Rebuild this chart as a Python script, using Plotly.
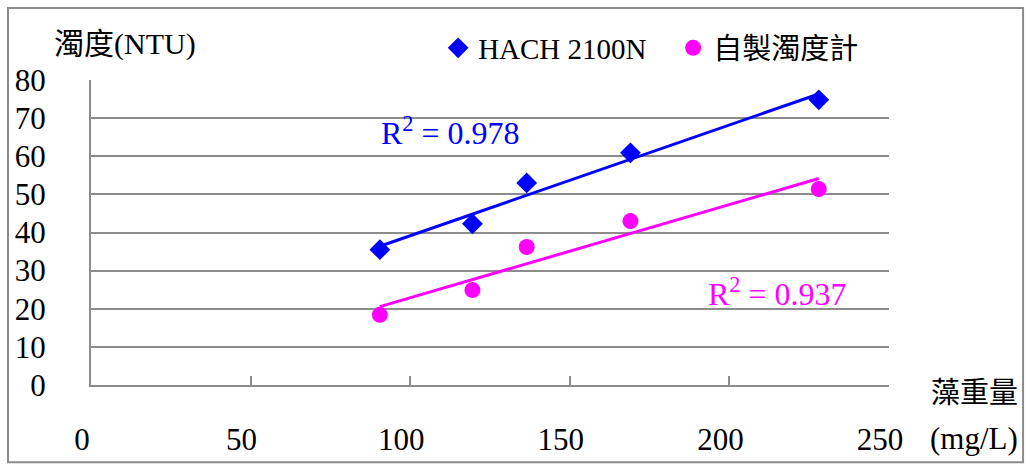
import numpy as np
import plotly.graph_objects as go

# Data
algae_weight = [90.5, 119.5, 136.5, 169.0, 228.0]      # 藻重量 (mg/L)
hach_ntu = [35.5, 42.3, 53.0, 60.9, 74.8]               # HACH 2100N
homemade_ntu = [18.4, 24.9, 36.2, 43.0, 51.4]           # 自製濁度計
series_names = ["HACH 2100N", "自製濁度計"]
r2_labels = ["R<sup>2</sup> = 0.978", "R<sup>2</sup> = 0.937"]
x_ticks = [0, 50, 100, 150, 200, 250]
y_ticks = [0, 10, 20, 30, 40, 50, 60, 70, 80]

BLUE = "#0000FF"
MAGENTA = "#FF00FF"
GRID = "#8c8c8c"
FONT = "Liberation Serif, Noto Sans CJK TC, serif"

fig = go.Figure()

def trend(x, y):
    x = np.asarray(x, float)
    y = np.asarray(y, float)
    m, b = np.polyfit(x, y, 1)
    xs = np.array([x.min(), x.max()])
    return xs, m * xs + b

for ys, name, color, sym, size in [
    (hach_ntu, series_names[0], BLUE, "diamond", 16),
    (homemade_ntu, series_names[1], MAGENTA, "circle", 16),
]:
    tx, ty = trend(algae_weight, ys)
    fig.add_trace(go.Scatter(x=tx, y=ty, mode="lines",
                             line=dict(color=color, width=3),
                             showlegend=False, hoverinfo="skip"))
    fig.add_trace(go.Scatter(x=algae_weight, y=ys, mode="markers", name=name,
                             marker=dict(color=color, symbol=sym, size=size,
                                         line=dict(width=0))))

fig.update_layout(
    width=1030, height=466,
    margin=dict(l=91, r=141, t=80, b=81, autoexpand=False),
    paper_bgcolor="white", plot_bgcolor="white",
    font=dict(family=FONT, size=28, color="black"),
    showlegend=True,
    legend=dict(orientation="h", x=0.435, y=1.105, xanchor="left", yanchor="middle",
                font=dict(size=29, family=FONT), bgcolor="rgba(0,0,0,0)",
                entrywidthmode="pixels", entrywidth=190, itemsizing="trace"),
    xaxis=dict(range=[0, 250], tickvals=x_ticks, showgrid=False, zeroline=False,
               showline=True, linecolor=GRID, linewidth=2,
               ticks="inside", ticklen=9, tickwidth=2, tickcolor=GRID,
               ticklabelstandoff=26, ticklabelshift=-9, automargin=False,
               tickfont=dict(size=31, family=FONT)),
    yaxis=dict(range=[0, 80], tickvals=y_ticks, showgrid=True, gridcolor=GRID,
               gridwidth=2, zeroline=False,
               showline=True, linecolor=GRID, linewidth=2,
               ticks="", ticklabelstandoff=37, automargin=False,
               tickfont=dict(size=31, family=FONT)),
)

# Outer frame of the chart
fig.add_shape(type="rect", xref="paper", yref="paper",
              x0=-0.104, x1=1.168, y0=-0.253, y1=1.236,
              line=dict(color=GRID, width=2), fillcolor="rgba(0,0,0,0)", layer="below")

# Axis titles
fig.add_annotation(text="濁度(NTU)", xref="paper", yref="paper", x=-0.049, y=1.118,
                   xanchor="left", yanchor="middle", showarrow=False,
                   font=dict(size=30, family=FONT))
fig.add_annotation(text="藻重量", xref="paper", yref="paper", x=1.164, y=-0.026,
                   xanchor="right", yanchor="middle", showarrow=False,
                   font=dict(size=29, family=FONT))
fig.add_annotation(text="(mg/L)", xref="paper", yref="paper", x=1.164, y=-0.174,
                   xanchor="right", yanchor="middle", showarrow=False,
                   font=dict(size=31, family=FONT))

# R² labels
fig.add_annotation(text=r2_labels[0], x=90.3, y=66.6, xanchor="left", yanchor="middle",
                   showarrow=False, font=dict(size=32, color=BLUE, family=FONT))
fig.add_annotation(text=r2_labels[1], x=192.6, y=24.3, xanchor="left", yanchor="middle",
                   showarrow=False, font=dict(size=32, color=MAGENTA, family=FONT))

fig.write_html("out.html")
